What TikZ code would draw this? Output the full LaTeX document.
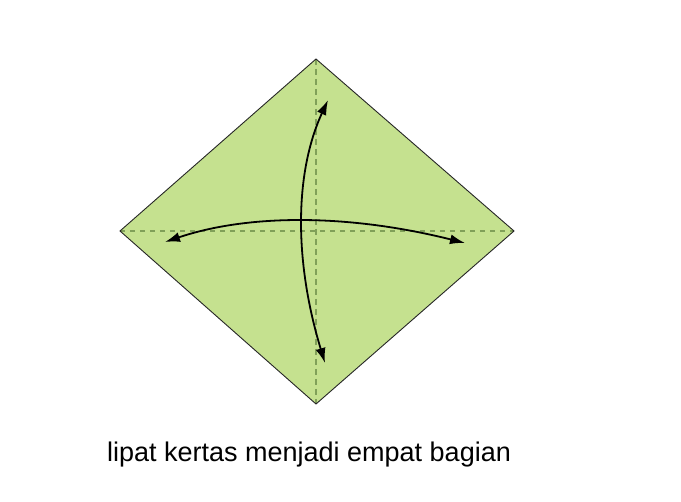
\documentclass[tikz,border=0pt]{standalone}
\usepackage{fontspec}
\setmainfont{Liberation Sans}
\usetikzlibrary{arrows.meta}
\definecolor{paper}{RGB}{197,225,143}
\definecolor{crease}{RGB}{128,160,88}
\tikzset{
  fold/.style={crease, line width=1.8pt, dash pattern=on 5pt off 5pt},
  foldv/.style={crease, line width=1.3pt, dash pattern=on 6pt off 4pt},
  turn/.style={line width=1.8pt, black, {Latex[length=15pt,width=10pt]}-{Latex[length=15pt,width=10pt]}},
}
\begin{document}
\begin{tikzpicture}[x=1pt,y=-1pt]
\useasboundingbox (0,0) rectangle (681,502);
\coordinate (T) at (316,59);
\coordinate (L) at (120,231);
\coordinate (R) at (514,231);
\coordinate (B) at (316,404);
\fill[paper] (T) -- (R) -- (B) -- (L) -- cycle;
\draw[fold] (L) -- (R);
\draw[foldv] (T) -- (B);
\draw[black!85, line width=0.9pt, line join=miter] (T) -- (R) -- (B) -- (L) -- cycle;
\coordinate (vt) at (328,100);
\coordinate (vb) at (325,363);
\coordinate (hl) at (165,242);
\coordinate (hr) at (465,243);
\draw[turn] (vt) .. controls (294.7,172.3) and (293.7,260) .. (vb);
\draw[turn] (hl) .. controls (249,213.7) and (349,214) .. (hr);
\node[font=\fontsize{27}{32}\selectfont, anchor=base] (cap) at (309,462) {lipat kertas menjadi empat bagian};
\end{tikzpicture}
\end{document}
